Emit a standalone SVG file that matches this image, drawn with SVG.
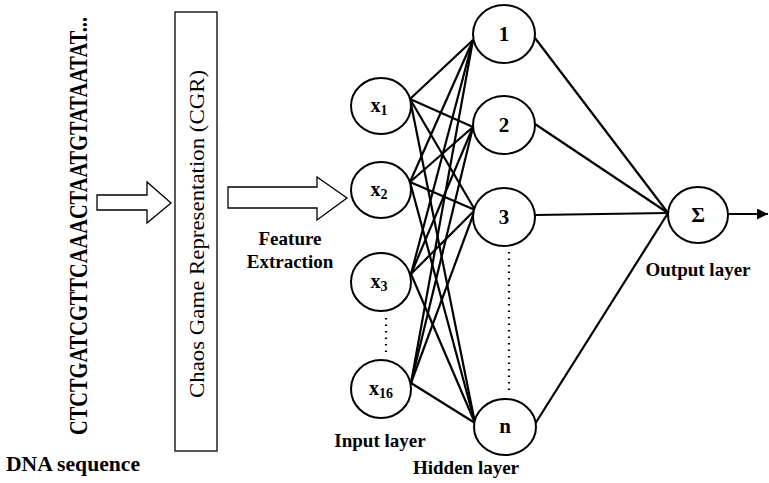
<svg xmlns="http://www.w3.org/2000/svg" width="769" height="483" viewBox="0 0 769 483">
<style>
.node{fill:#fff;stroke:#000;stroke-width:2}
.t{font-family:"Liberation Serif","Times New Roman","DejaVu Serif",serif;font-weight:bold;fill:#000}
.r{font-family:"Liberation Serif","Times New Roman","DejaVu Serif",serif;fill:#000}
.lbl{font-size:19px}
.in{font-size:20px;text-anchor:middle}
.hid{font-size:21px;text-anchor:middle}
.sub{font-size:14px}
.c line{stroke:#000;stroke-width:2.2}
.dot{stroke:#000;stroke-width:3;stroke-dasharray:1.5 5}
.blk{fill:#fff;stroke:#000;stroke-width:1.3}
</style>
<defs>
<marker id="ah" viewBox="0 0 10 10" refX="10" refY="5" markerWidth="5" markerHeight="5" orient="auto" markerUnits="strokeWidth"><path d="M0,0 L10,5 L0,10 z" fill="#000"/></marker>
</defs>
<rect width="769" height="483" fill="#fff"/>

<g id="dna">
<text class="t" transform="translate(87,226) rotate(-90)" text-anchor="middle" font-size="25" textLength="418" lengthAdjust="spacingAndGlyphs">CTCTGATCGTTCAAACTAATGTATAATAT...</text>
<text class="t" x="6" y="471" font-size="20" textLength="134" lengthAdjust="spacingAndGlyphs">DNA sequence</text>
</g>

<g id="arrow1"><path class="blk" d="M97,195 H147 V182 L171,203 L147,223 V210 H97 Z"/></g>

<g id="cgr">
<rect x="175" y="12" width="42" height="439" fill="#fff" stroke="#000" stroke-width="1.3"/>
<text class="r" transform="translate(204,234) rotate(-90)" text-anchor="middle" font-size="21" textLength="328" lengthAdjust="spacingAndGlyphs">Chaos Game Representation (CGR)</text>
</g>

<g id="arrow2"><path class="blk" d="M228,187 H317 V177 L347,198 L317,220 V208 H228 Z"/></g>
<g id="feat">
<text class="t lbl" x="290" y="245" text-anchor="middle">Feature</text>
<text class="t lbl" x="290" y="268" text-anchor="middle">Extraction</text>
</g>

<g id="connectors" class="c">
<line x1="410" y1="99" x2="473" y2="40"/>
<line x1="410" y1="99" x2="473" y2="127"/>
<line x1="410" y1="99" x2="475" y2="210"/>
<line x1="410" y1="99" x2="475" y2="423"/>
<line x1="410" y1="182" x2="473" y2="40"/>
<line x1="410" y1="182" x2="473" y2="127"/>
<line x1="410" y1="182" x2="475" y2="210"/>
<line x1="410" y1="182" x2="475" y2="423"/>
<line x1="411" y1="274" x2="473" y2="40"/>
<line x1="411" y1="274" x2="473" y2="127"/>
<line x1="411" y1="274" x2="475" y2="210"/>
<line x1="411" y1="274" x2="475" y2="423"/>
<line x1="411" y1="383" x2="473" y2="40"/>
<line x1="411" y1="383" x2="473" y2="127"/>
<line x1="411" y1="383" x2="475" y2="210"/>
<line x1="411" y1="383" x2="475" y2="423"/>
<line x1="535" y1="38" x2="668" y2="213"/>
<line x1="535" y1="124" x2="668" y2="213"/>
<line x1="535" y1="215" x2="668" y2="213"/>
<line x1="535" y1="424" x2="668" y2="213"/>
<line x1="729" y1="214" x2="768" y2="214" marker-end="url(#ah)"/>
<line class="dot" x1="386" y1="318" x2="386" y2="357"/>
<line class="dot" x1="509" y1="252" x2="509" y2="395"/>
</g>

<g id="x1"><ellipse class="node" cx="381" cy="106" rx="30" ry="28"/><text class="t in" x="379" y="112">x<tspan class="sub" dy="3">1</tspan></text></g>
<g id="x2"><ellipse class="node" cx="381" cy="190" rx="30" ry="28"/><text class="t in" x="379" y="196">x<tspan class="sub" dy="3">2</tspan></text></g>
<g id="x3"><ellipse class="node" cx="381" cy="282" rx="30" ry="29"/><text class="t in" x="379" y="288">x<tspan class="sub" dy="3">3</tspan></text></g>
<g id="x16"><ellipse class="node" cx="381" cy="389" rx="30" ry="29"/><text class="t in" x="381" y="395">x<tspan class="sub" dy="3">16</tspan></text></g>

<g id="h1"><ellipse class="node" cx="504" cy="34" rx="31" ry="29"/><text class="t hid" x="504" y="41">1</text></g>
<g id="h2"><ellipse class="node" cx="504" cy="125" rx="31" ry="29"/><text class="t hid" x="504" y="132">2</text></g>
<g id="h3"><ellipse class="node" cx="504" cy="217" rx="31" ry="29"/><text class="t hid" x="504" y="224">3</text></g>
<g id="hn"><ellipse class="node" cx="505" cy="427" rx="31" ry="28"/><text class="t hid" x="505" y="433">n</text></g>

<g id="sigma"><ellipse class="node" cx="698" cy="215" rx="30" ry="28"/><text class="t hid" x="698" y="222">Σ</text></g>

<g id="labels">
<text class="t lbl" x="380" y="447" text-anchor="middle">Input layer</text>
<text class="t lbl" x="466" y="474" text-anchor="middle">Hidden layer</text>
<text class="t lbl" x="698" y="276" text-anchor="middle">Output layer</text>
</g>
</svg>
